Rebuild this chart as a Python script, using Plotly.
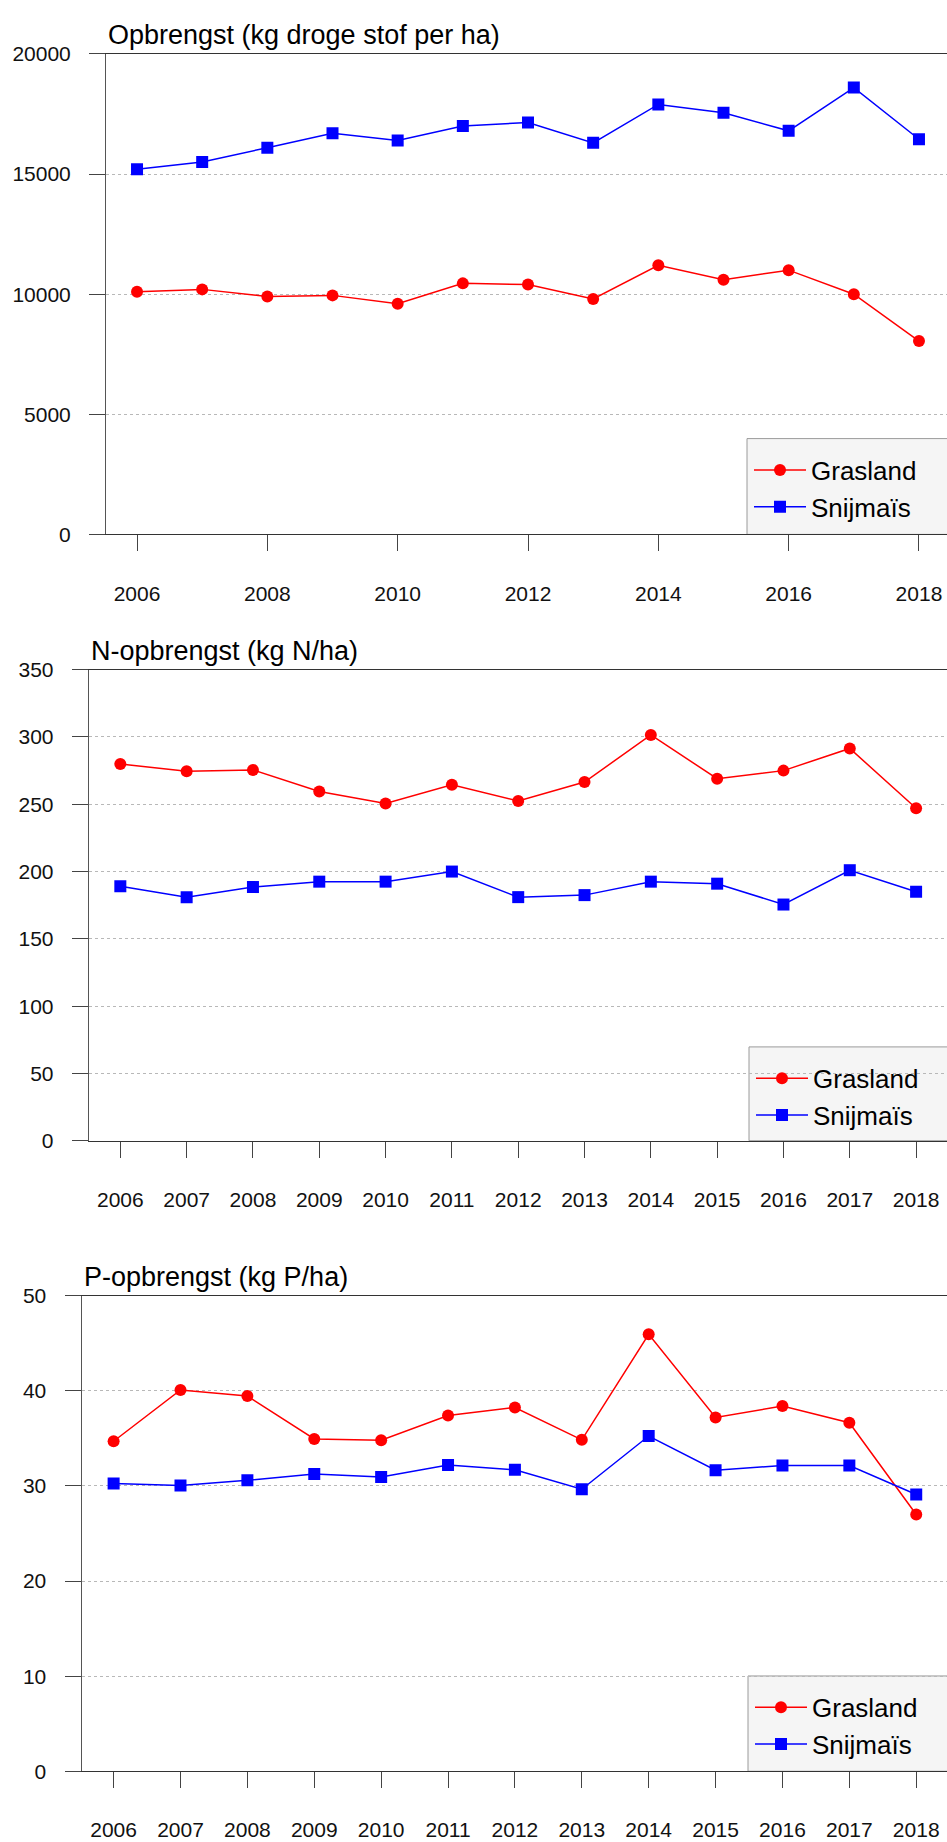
import plotly.graph_objects as go

years = list(range(2006, 2019))

# Panel 1: Opbrengst (kg droge stof per ha)
ds_gras = [10100, 10200, 9900, 9950, 9600, 10450, 10400, 9800, 11200, 10600, 11000, 10000, 8050]
ds_mais = [15200, 15500, 16100, 16700, 16400, 17000, 17150, 16300, 17900, 17550, 16800, 18600, 16450]

# Panel 2: N-opbrengst (kg N/ha)
n_gras = [280, 274.5, 275.5, 259.5, 250.5, 264.5, 252.5, 266.5, 301.5, 269, 275, 291.5, 247]
n_mais = [189, 181, 188.5, 192.5, 192.5, 200, 181, 182.5, 192.5, 191, 175.5, 201, 185]

# Panel 3: P-opbrengst (kg P/ha)
p_gras = [34.7, 40.1, 39.45, 34.95, 34.8, 37.4, 38.25, 34.85, 45.95, 37.2, 38.4, 36.65, 27.0]
p_mais = [30.25, 30.05, 30.6, 31.25, 30.95, 32.2, 31.7, 29.65, 35.25, 31.65, 32.15, 32.15, 29.1]

titles = ["Opbrengst (kg droge stof per ha)", "N-opbrengst (kg N/ha)", "P-opbrengst (kg P/ha)"]
y_ranges = [[0, 20000], [0, 350], [0, 50]]
y_dticks = [5000, 50, 10]
x_dticks = [2, 1, 1]
series_names = ["Grasland", "Snijmaïs"]

W, H = 947, 1842
FONT = "Liberation Sans, Arial, Helvetica, sans-serif"

# pixel geometry (layout only)
panels = [
    dict(left=106, top=42.5, bottom=529, xr=[2005.524, 2018.43], leg_left=747, leg_top=432),
    dict(left=88.7, top=666, bottom=1143, xr=[2005.523, 2018.466], leg_left=749, leg_top=1048),
    dict(left=81.5, top=1300, bottom=1781.5, xr=[2005.52, 2018.46], leg_left=748, leg_top=1685),
]

data = [(ds_gras, ds_mais), (n_gras, n_mais), (p_gras, p_mais)]

fig = go.Figure()
shapes = []
annotations = []
layout = {}

for i, (p, (g, m)) in enumerate(zip(panels, data)):
    k = "" if i == 0 else str(i + 1)
    xa = "x" + k
    ya = "y" + k
    leg = "legend" + k
    fig.add_trace(go.Scatter(
        x=years, y=g, name=series_names[0], mode="lines+markers",
        xaxis=xa, yaxis=ya, legend=leg,
        line=dict(color="#ff0000", width=1.5),
        marker=dict(symbol="circle", size=12, color="#ff0000"),
    ))
    fig.add_trace(go.Scatter(
        x=years, y=m, name=series_names[1], mode="lines+markers",
        xaxis=xa, yaxis=ya, legend=leg,
        line=dict(color="#0000ff", width=1.5),
        marker=dict(symbol="square", size=12, color="#0000ff"),
    ))
    ydom = [1 - p["bottom"] / H, 1 - p["top"] / H]
    xdom = [p["left"] / W, 1.0]
    layout["xaxis" + k] = dict(
        domain=xdom, anchor=ya, range=p["xr"], dtick=x_dticks[i], tick0=2006,
        tickformat="d",
        showline=True, linecolor="#333333", linewidth=1, mirror=True,
        ticks="outside", ticklen=16, tickcolor="#444444", tickwidth=1,
        showgrid=False, zeroline=False,
        tickfont=dict(family=FONT, size=21, color="#111111"),
        ticklabelstandoff=24,
    )
    layout["yaxis" + k] = dict(
        domain=ydom, anchor=xa, range=y_ranges[i], dtick=y_dticks[i],
        tickformat="d",
        showline=True, linecolor="#555555", linewidth=1,
        ticks="outside", ticklen=16, tickcolor="#444444", tickwidth=1,
        showgrid=True, gridcolor="#b8b8b8", griddash="dot", gridwidth=1,
        zeroline=False,
        tickfont=dict(family=FONT, size=21, color="#111111"),
        ticklabelstandoff=14,
    )
    # title
    annotations.append(dict(
        text=titles[i], xref="paper", yref="paper",
        x=p["left"] / W, y=1 - p["top"] / H, xanchor="left", yanchor="bottom",
        yshift=2, showarrow=False,
        font=dict(family=FONT, size=27, color="#000000"),
    ))
    # legend background box
    shapes.append(dict(
        type="rect", xref="paper", yref="paper", layer="below",
        x0=p["leg_left"] / W, x1=1.02, y0=1 - p["bottom"] / H, y1=1 - p["leg_top"] / H,
        fillcolor="#f5f5f5", line=dict(color="#9a9a9a", width=1),
    ))
    layout[leg] = dict(
        x=(p["leg_left"] + 2) / W, y=1 - (p["leg_top"] + 8) / H,
        xanchor="left", yanchor="top",
        bgcolor="rgba(0,0,0,0)", borderwidth=0,
        font=dict(family=FONT, size=26, color="#000000"),
        itemwidth=52, tracegroupgap=0,
    )

fig.update_layout(
    width=W, height=H,
    margin=dict(l=0, r=0, t=0, b=0),
    paper_bgcolor="white", plot_bgcolor="rgba(0,0,0,0)",
    font=dict(family=FONT),
    shapes=shapes, annotations=annotations,
    **layout,
)

fig.write_html(
    "out.html",
    config={"displayModeBar": False},
    post_script="document.body.style.margin='0';document.body.style.overflow='hidden';",
)
